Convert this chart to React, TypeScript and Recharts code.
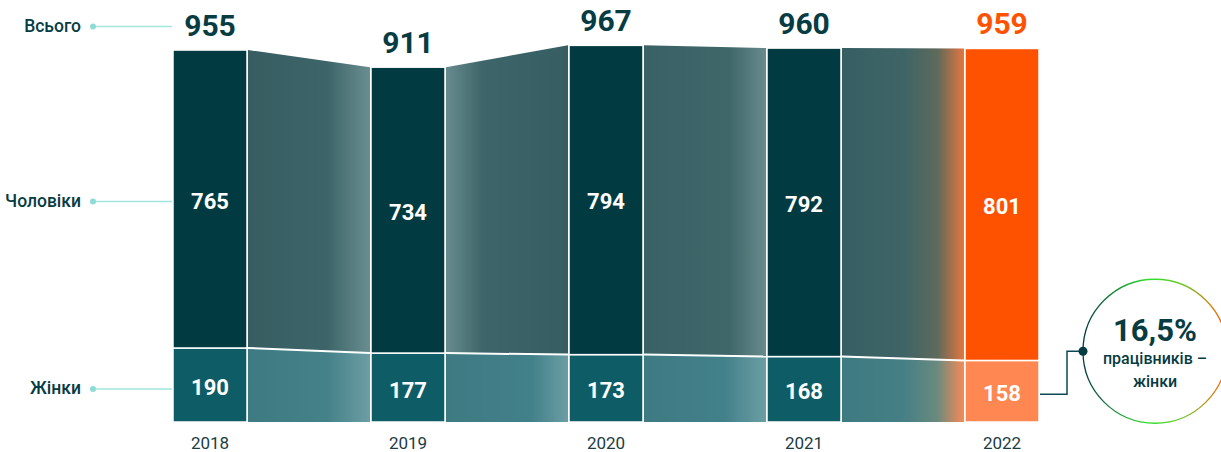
import React from 'react';
import {BarChart, Bar, XAxis, YAxis} from 'recharts';

// ---- data ----
const YEARS = ['2018', '2019', '2020', '2021', '2022'];
const MEN = [765, 734, 794, 792, 801];
const WOMEN = [190, 177, 173, 168, 158];
const TOTAL = [955, 911, 967, 960, 959];
const ROW_LABELS = {total: 'Всього', men: 'Чоловіки', women: 'Жінки'};
const NOTE_LINES = ['працівників –', 'жінки'];

// ---- styles ----
const FONT = 'Roboto, "Noto Sans", sans-serif';
const DARK = '#073c43';
const ORANGE = '#ff5200';
const MEN_FILL = ['#023a42', '#023a42', '#023a42', '#023a42', ORANGE];
const WOMEN_FILL = ['#0e5c66', '#0e5c66', '#0e5c66', '#0e5c66', '#ff8751'];
const TOTAL_COLOR = [DARK, DARK, DARK, DARK, ORANGE];
const GUIDE = '#a2e5de';

// gradient stops of the ribbons that join bar i-1 to bar i
const MEN_FADE: [number, string][][] = [
  [],
  [[0, '#375d61'], [0.65, '#3d6569'], [1, '#6a8e90']],
  [[0, '#688b8e'], [0.3, '#3e6569'], [1, '#365e62']],
  [[0, '#3a6266'], [0.7, '#3f6669'], [1, '#688b8d']],
  [[0, '#375f63'], [0.5, '#3e6466'], [0.78, '#5d6a5c'], [1, '#e3763f']],
];
const WOMEN_FADE: [number, string][][] = [
  [],
  [[0, '#3e7a82'], [0.65, '#458189'], [1, '#6c9ea4']],
  [[0, '#3e7a82'], [0.7, '#42808a'], [1, '#6c9ea4']],
  [[0, '#3e7a82'], [0.65, '#42808a'], [1, '#6c9ea4']],
  [[0, '#3e7a82'], [0.5, '#457f85'], [0.78, '#6a8a7e'], [1, '#f78a58']],
];

const data = YEARS.map((year, i) => ({
  year,
  men: MEN[i],
  women: WOMEN[i],
  total: TOTAL[i],
}));

const womenShare = `${((WOMEN[WOMEN.length - 1] / TOTAL[TOTAL.length - 1]) * 100)
  .toFixed(1)
  .replace('.', ',')}%`;

// rects of the bars already drawn, so each bar can join to the one before it
type Box = {x: number; y: number; width: number; height: number};
const drawn: {men: Box[]; women: Box[]} = {men: [], women: []};

const Ribbon = ({id, stops, prev, cur}: {id: string; stops: [number, string][]; prev: Box; cur: Box}) => {
  const x0 = prev.x + prev.width + 1;
  const x1 = cur.x - 1;
  const pts = [
    [x0, prev.y],
    [x1, cur.y],
    [x1, cur.y + cur.height],
    [x0, prev.y + prev.height],
  ]
    .map((p) => p.join(','))
    .join(' ');
  return (
    <g>
      <defs>
        <linearGradient id={id} x1='0' y1='0' x2='1' y2='0'>
          {stops.map(([o, c], k) => (
            <stop key={k} offset={o} stopColor={c} />
          ))}
        </linearGradient>
      </defs>
      <polygon points={pts} fill={`url(#${id})`} />
    </g>
  );
};

const RowLabel = ({text, barX, y}: {text: string; barX: number; y: number}) => (
  <g>
    <line x1={barX - 80} y1={y} x2={barX - 1} y2={y} stroke={GUIDE} strokeWidth={1.5} />
    <circle cx={barX - 80} cy={y} r={3} fill='#8fdcd6' />
    <text x={barX - 92} y={y + 5.5} textAnchor='end' fontSize={17.5} fontWeight={500} fill={DARK} fontFamily={FONT}>
      {text}
    </text>
  </g>
);

const WomenShape = (props: any) => {
  const {x, y, width, height, index, payload} = props;
  const cur = {x, y, width, height};
  drawn.women[index] = cur;
  const prev = index > 0 ? drawn.women[index - 1] : null;
  const mid = y + height / 2;
  const last = index === YEARS.length - 1;
  const cx = x + width + 116;
  const cy = mid - 40;
  return (
    <g>
      {prev && <Ribbon id={`rib-w-${index}`} stops={WOMEN_FADE[index]} prev={prev} cur={cur} />}
      <rect x={x} y={y} width={width} height={height} fill={WOMEN_FILL[index]} stroke='#fff' strokeWidth={1.5} />
      <text x={x + width / 2} y={mid + 10} textAnchor='middle' fontSize={22} fontWeight={700} fill='#fff' fontFamily={FONT}>
        {payload.women}
      </text>
      {index === 0 && <RowLabel text={ROW_LABELS.women} barX={x} y={mid + 4} />}
      {last && (
        <g>
          <defs>
            <linearGradient id='ring' x1='0' y1='0' x2='1' y2='0'>
              <stop offset={0} stopColor='#033a42' />
              <stop offset={0.45} stopColor='#2fe02f' />
              <stop offset={0.7} stopColor='#6fc82a' />
              <stop offset={1} stopColor='#ff5a00' />
            </linearGradient>
          </defs>
          <polyline
            points={`${x + width + 1},${mid + 3} ${x + width + 28},${mid + 3} ${x + width + 28},${cy} ${cx - 72},${cy}`}
            fill='none'
            stroke='#0b4a52'
            strokeWidth={1.5}
          />
          <circle cx={cx} cy={cy} r={72} fill='#fff' stroke='url(#ring)' strokeWidth={1.3} />
          <circle cx={cx - 72} cy={cy} r={4.5} fill={DARK} />
          <text x={cx} y={cy - 10} textAnchor='middle' fontSize={31} fontWeight={700} fill={DARK} fontFamily={FONT}>
            {womenShare}
          </text>
          <text x={cx} y={cy + 13} textAnchor='middle' fontSize={16} fontWeight={500} fill={DARK} fontFamily={FONT}>
            {NOTE_LINES[0]}
          </text>
          <text x={cx} y={cy + 36} textAnchor='middle' fontSize={16} fontWeight={500} fill={DARK} fontFamily={FONT}>
            {NOTE_LINES[1]}
          </text>
        </g>
      )}
    </g>
  );
};

const MenShape = (props: any) => {
  const {x, y, width, height, index, payload} = props;
  const cur = {x, y, width, height};
  drawn.men[index] = cur;
  const prev = index > 0 ? drawn.men[index - 1] : null;
  const mid = y + height / 2;
  return (
    <g>
      {prev && <Ribbon id={`rib-m-${index}`} stops={MEN_FADE[index]} prev={prev} cur={cur} />}
      {prev && (
        <line
          x1={prev.x + prev.width + 1}
          y1={prev.y + prev.height}
          x2={x - 1}
          y2={y + height}
          stroke='#fff'
          strokeWidth={2}
        />
      )}
      <rect x={x} y={y} width={width} height={height} fill={MEN_FILL[index]} stroke='#fff' strokeWidth={1.5} />
      <text x={x + width / 2} y={mid + 9.5} textAnchor='middle' fontSize={22} fontWeight={700} fill='#fff' fontFamily={FONT}>
        {payload.men}
      </text>
      <text x={x + width / 2} y={y - 14} textAnchor='middle' fontSize={30} fontWeight={700} fill={TOTAL_COLOR[index]} fontFamily={FONT}>
        {payload.total}
      </text>
      {index === 0 && (
        <g>
          <RowLabel text={ROW_LABELS.total} barX={x} y={y - 23.5} />
          <RowLabel text={ROW_LABELS.men} barX={x} y={mid + 2.5} />
        </g>
      )}
    </g>
  );
};

const YearTick = (props: any) => {
  const {x, y, payload} = props;
  return (
    <text x={x} y={y + 27} textAnchor='middle' fontSize={17} fill='#1b3c42' fontFamily={FONT}>
      {payload.value}
    </text>
  );
};

export default function App() {
  return (
    <div style={{position: 'absolute', left: 0, top: 0, width: 1221, height: 452, background: '#fff'}}>
      <BarChart width={1221} height={452} data={data} margin={{top: 32.5, right: 120, bottom: 0, left: 111}}>
        <XAxis dataKey='year' axisLine={false} tickLine={false} tickSize={0} tickMargin={0} height={30} tick={<YearTick />} interval={0} />
        <YAxis hide domain={[0, 1000]} />
        <Bar dataKey='women' stackId='a' barSize={74} isAnimationActive={false} shape={<WomenShape />} />
        <Bar dataKey='men' stackId='a' barSize={74} isAnimationActive={false} shape={<MenShape />} />
      </BarChart>
    </div>
  );
}
